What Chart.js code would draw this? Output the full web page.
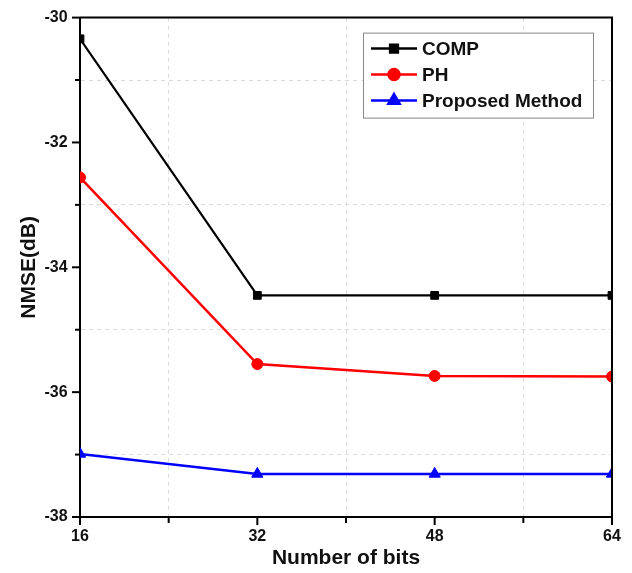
<!DOCTYPE html>
<html>
<head>
<meta charset="utf-8">
<script src="https://cdn.jsdelivr.net/npm/chart.js"></script>
<style>
  html, body { margin: 0; padding: 0; background: #fff; }
  #wrap { width: 632px; height: 573px; }
</style>
</head>
<body>
<div id="wrap"><canvas id="nmseChart" width="632" height="573"></canvas></div>
<script>
// data
const bits = [16, 32, 48, 64];
const comp = [-30.34, -34.45, -34.45, -34.45];
const ph = [-32.56, -35.55, -35.74, -35.75];
const proposed = [-36.99, -37.31, -37.31, -37.31];
const seriesNames = ['COMP', 'PH', 'Proposed Method'];

const FONT = "'Liberation Sans Narrow', 'Liberation Sans', Arial, sans-serif";

function toXY(ys) {
  return bits.map((b, i) => ({ x: b, y: ys[i] }));
}

// tick marks (major long, minor short) + top/right frame
const frameTicks = {
  id: 'frameTicks',
  afterDraw(chart) {
    const ctx = chart.ctx;
    const a = chart.chartArea;
    const xs = chart.scales.x, ys = chart.scales.y;
    ctx.save();
    ctx.strokeStyle = '#000';
    ctx.lineWidth = 2;
    ctx.beginPath();
    ctx.moveTo(a.left, a.top); ctx.lineTo(a.right, a.top); ctx.lineTo(a.right, a.bottom);
    ctx.stroke();
    for (let v = 16; v <= 64; v += 8) {
      const px = xs.getPixelForValue(v);
      const len = (v % 16 === 0) ? 8 : 6;
      ctx.beginPath(); ctx.moveTo(px, a.bottom); ctx.lineTo(px, a.bottom + len); ctx.stroke();
    }
    for (let v = -38; v <= -30; v += 1) {
      const py = ys.getPixelForValue(v);
      const len = (v % 2 === 0) ? 8 : 5;
      ctx.beginPath(); ctx.moveTo(a.left, py); ctx.lineTo(a.left - len, py); ctx.stroke();
    }
    ctx.restore();
  }
};

// legend box inside the plot
const innerLegend = {
  id: 'innerLegend',
  afterDraw(chart) {
    const ctx = chart.ctx;
    const a = chart.chartArea;
    const bx = a.right - 249, by = a.top + 15, bw = 230, bh = 85;
    ctx.save();
    ctx.fillStyle = '#fff';
    ctx.fillRect(bx, by, bw, bh);
    ctx.strokeStyle = '#888';
    ctx.lineWidth = 1;
    ctx.strokeRect(bx + 0.5, by + 0.5, bw, bh);
    chart.data.datasets.forEach((ds, i) => {
      const cy = by + 16 + i * 26;
      ctx.strokeStyle = ds.borderColor;
      ctx.lineWidth = 2.5;
      ctx.beginPath(); ctx.moveTo(bx + 8, cy); ctx.lineTo(bx + 54, cy); ctx.stroke();
      Chart.helpers.drawPoint(ctx, {
        pointStyle: ds.pointStyle, radius: ds.pointRadius, borderWidth: 1, rotation: 0
      }, bx + 31, cy);
      ctx.fillStyle = ds.borderColor;
      ctx.fill();
      ctx.fillStyle = '#111';
      ctx.font = 'bold 19px ' + FONT;
      ctx.textBaseline = 'middle';
      ctx.textAlign = 'left';
      ctx.fillText(ds.label, bx + 59, cy + 1);
    });
    ctx.restore();
  }
};

const ctx = document.getElementById('nmseChart').getContext('2d');
const chart = new Chart(ctx, {
  type: 'line',
  data: {
    datasets: [
      { label: seriesNames[0], data: toXY(comp), borderColor: '#000', backgroundColor: '#000',
        pointStyle: 'rect', pointRadius: 5.5, borderWidth: 2.2 },
      { label: seriesNames[1], data: toXY(ph), borderColor: '#ff0000', backgroundColor: '#ff0000',
        pointStyle: 'circle', pointRadius: 5.5, borderWidth: 2.5 },
      { label: seriesNames[2], data: toXY(proposed), borderColor: '#0000ff', backgroundColor: '#0000ff',
        pointStyle: 'triangle', pointRadius: 6.5, borderWidth: 2.5 }
    ]
  },
  options: {
    responsive: false,
    animation: false,
    layout: { padding: { left: 0, right: 20, top: 3, bottom: 0 } },
    elements: { line: { tension: 0 }, point: { pointBorderWidth: 1 } },
    plugins: { legend: { display: false }, tooltip: { enabled: false } },
    scales: {
      x: {
        type: 'linear', min: 16, max: 64,
        afterFit: s => { s.height = 56; },
        ticks: {
          stepSize: 8, padding: 10, color: '#111',
          font: { family: FONT, size: 16, weight: 'bold' },
          callback: v => (v % 16 === 0 ? v : '')
        },
        grid: {
          drawTicks: false,
          color: c => (c.tick && c.tick.value % 16 !== 0) ? '#dcdcdc' : 'rgba(0,0,0,0)'
        },
        border: { color: '#000', width: 2, dash: [4, 4] },
        title: { display: true, text: 'Number of bits', color: '#111', padding: { top: 0, bottom: 2 },
                 font: { family: FONT, size: 21, weight: 'bold' } }
      },
      y: {
        min: -38, max: -30,
        afterFit: s => { s.width = 80; },
        ticks: {
          stepSize: 1, padding: 8, color: '#111',
          font: { family: FONT, size: 16, weight: 'bold' },
          callback: v => (v % 2 === 0 ? v + ' ' : '')
        },
        grid: {
          drawTicks: false,
          color: c => (c.tick && Math.abs(c.tick.value % 2) === 1) ? '#dcdcdc' : 'rgba(0,0,0,0)'
        },
        border: { color: '#000', width: 2, dash: [4, 4] },
        title: { display: true, text: 'NMSE(dB)', color: '#111', padding: { top: 17, bottom: 0 },
                 font: { family: FONT, size: 21, weight: 'bold' } }
      }
    }
  },
  plugins: [frameTicks, innerLegend]
});
</script>
</body>
</html>
